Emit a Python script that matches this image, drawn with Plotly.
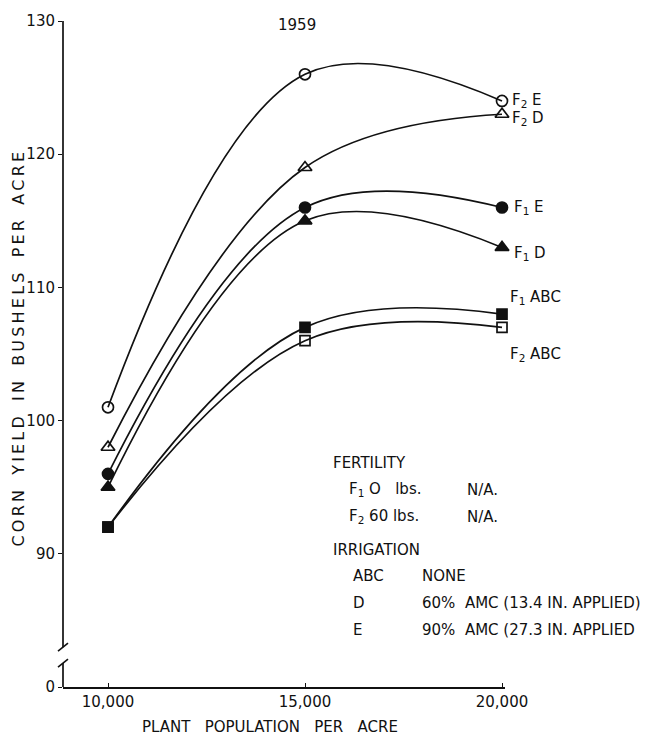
import plotly.graph_objects as go

# ---- data ----
population = [10000, 15000, 20000]
series_names = ["F2 E", "F2 D", "F1 E", "F1 D", "F1 ABC", "F2 ABC"]
f2e = [101, 126, 124]
f2d = [98, 119, 123]
f1e = [96, 116, 116]
f1d = [95, 115, 113]
f1abc = [92, 107, 108]
f2abc = [92, 106, 107]
y_tickvals = [80, 90, 100, 110, 120, 130]
y_ticktext = ["0", "90", "100", "110", "120", "130"]
x_tickvals = [10000, 15000, 20000]
x_ticktext = ["10,000", "15,000", "20,000"]

FONT = "DejaVu Sans"
series = [
    (f2e, "circle-open", 11),
    (f2d, "triangle-up-open", 12),
    (f1e, "circle", 11),
    (f1d, "triangle-up", 12),
    (f1abc, "square", 10),
    (f2abc, "square-open", 10),
]
labels = ["F<sub>2</sub> E", "F<sub>2</sub> D", "F<sub>1</sub> E", "F<sub>1</sub> D",
          "F<sub>1</sub> ABC", "F<sub>2</sub> ABC"]
label_shift = [(8, 0), (8, -4), (10, 0), (10, -6), (6, 17), (6, -27)]

fig = go.Figure()
for (vals, sym, sz), name in zip(series, series_names):
    fig.add_trace(go.Scatter(
        x=population, y=vals, name=name, mode="lines+markers",
        line=dict(color="#111", width=1.7, shape="spline", smoothing=1.1),
        marker=dict(symbol=sym, size=sz, color="#111",
                    line=dict(color="#111", width=1.7)),
        cliponaxis=False, showlegend=False))

ann = []
for (vals, _, _), lab, (dx, dy) in zip(series, labels, label_shift):
    ann.append(dict(x=population[-1], y=vals[-1], xref="x", yref="y", text=lab,
                    showarrow=False, xanchor="left", yanchor="middle",
                    xshift=dx, yshift=dy, font=dict(family=FONT, size=15, color="#111")))

def px_x(p):
    return (p - 63) / 442
def px_y(p):
    return (687 - p) / 669

def spaced(text, gap="   "):
    thin = "\u2009"
    return gap.join(thin.join(list(w)) for w in text.split(" "))

legend_lines = [
    ("FERTILITY", 331, 462),
    ("F<sub>1</sub> O   lbs.", 347, 489),
    ("N/A.", 465, 489),
    ("F<sub>2</sub> 60 lbs.", 347, 516),
    ("N/A.", 465, 516),
    ("IRRIGATION", 331, 549),
    ("ABC", 351, 575),
    ("NONE", 420, 575),
    ("D", 351, 603),
    ("60%  AMC (13.4 IN. APPLIED)", 420, 603),
    ("E", 351, 630),
    ("90%  AMC (27.3 IN. APPLIED", 420, 630),
]
for t, xx, yy in legend_lines:
    ann.append(dict(x=px_x(xx), y=px_y(yy), xref="paper", yref="paper", text=t,
                    showarrow=False, xanchor="left", yanchor="middle",
                    font=dict(family=FONT, size=15, color="#111")))

ann.append(dict(x=px_x(297), y=px_y(22), xref="paper", yref="paper", text="1959",
                showarrow=False, xanchor="center", yanchor="middle",
                font=dict(family=FONT, size=15, color="#111")))
ann.append(dict(x=px_x(19), y=px_y(348), xref="paper", yref="paper",
                text=spaced("CORN YIELD IN BUSHELS PER ACRE"), textangle=-90,
                showarrow=False, xanchor="center", yanchor="middle",
                font=dict(family=FONT, size=16, color="#111")))
ann.append(dict(x=px_x(270), y=px_y(727), xref="paper", yref="paper",
                text="PLANT   POPULATION   PER   ACRE",
                showarrow=False, xanchor="center", yanchor="middle",
                font=dict(family=FONT, size=15, color="#111")))

shapes = [
    # y axis line with break
    dict(type="line", xref="paper", yref="paper", x0=0, x1=0, y0=0, y1=px_y(663),
         line=dict(color="#111", width=1.7)),
    dict(type="line", xref="paper", yref="paper", x0=0, x1=0, y0=px_y(647), y1=1,
         line=dict(color="#111", width=1.7)),
    dict(type="line", xref="paper", yref="paper", x0=px_x(58), x1=px_x(68),
         y0=px_y(651), y1=px_y(643), line=dict(color="#111", width=1.7)),
    dict(type="line", xref="paper", yref="paper", x0=px_x(58), x1=px_x(68),
         y0=px_y(667), y1=px_y(659), line=dict(color="#111", width=1.7)),
]

fig.update_layout(
    width=647, height=736,
    margin=dict(l=63, r=142, t=18, b=49),
    paper_bgcolor="white", plot_bgcolor="white",
    annotations=ann, shapes=shapes,
    xaxis=dict(range=[8858, 20076], tickvals=x_tickvals, ticktext=x_ticktext,
               showgrid=False, zeroline=False, showline=True, linecolor="#111",
               linewidth=1.7, ticks="inside", ticklen=4, tickcolor="#111",
               tickfont=dict(family=FONT, size=15, color="#111")),
    yaxis=dict(range=[80, 130], tickvals=y_tickvals, ticktext=y_ticktext,
               showgrid=False, zeroline=False, showline=False,
               ticks="outside", ticklen=4, tickcolor="#111",
               tickfont=dict(family=FONT, size=15, color="#111")),
)

fig.write_html("out.html")
